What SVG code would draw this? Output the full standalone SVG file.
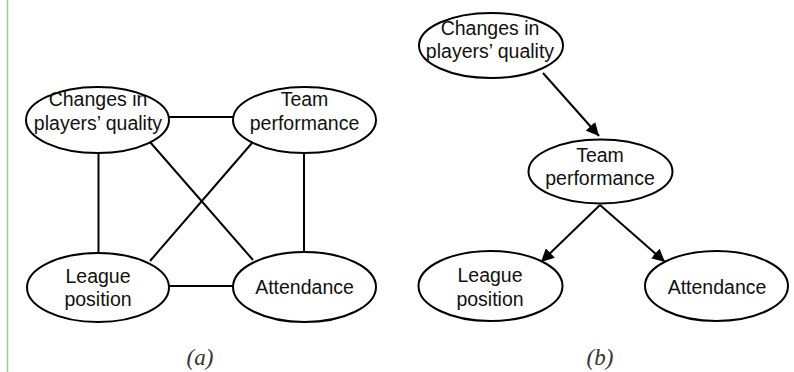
<svg xmlns="http://www.w3.org/2000/svg" width="794" height="372" viewBox="0 0 794 372">
<style>
.n ellipse{fill:#fff;stroke:#000;stroke-width:2}
.n text{font-family:"Liberation Sans",Arial,sans-serif;font-size:19.5px;fill:#111;text-anchor:middle}
.e line{stroke:#000;stroke-width:2}
.cap{font-family:"Liberation Serif","DejaVu Serif",serif;font-style:italic;font-size:23px;fill:#333;text-anchor:middle}
</style>
<defs>
<marker id="ah" viewBox="0 0 10 10" refX="10" refY="5" markerWidth="6.5" markerHeight="6.5" markerUnits="strokeWidth" orient="auto">
<path d="M0,0 L10,5 L0,10 z" fill="#000"/>
</marker>
</defs>
<line x1="7.5" y1="0" x2="7.5" y2="372" stroke="#8fd18f" stroke-width="1.5"/>
<g class="e" id="edges-a">
<line x1="169" y1="117" x2="233" y2="117"/>
<line x1="169" y1="286" x2="233" y2="286"/>
<line x1="98.5" y1="153" x2="98.5" y2="252"/>
<line x1="304" y1="153" x2="304" y2="252"/>
<line x1="150" y1="142" x2="253" y2="260"/>
<line x1="252" y1="143" x2="150" y2="261"/>
</g>
<g class="e" id="edges-b">
<line x1="543" y1="73" x2="599" y2="136" marker-end="url(#ah)"/>
<line x1="600" y1="205" x2="541" y2="262" marker-end="url(#ah)"/>
<line x1="600" y1="205" x2="665" y2="262" marker-end="url(#ah)"/>
</g>
<g class="n" id="a-changes"><ellipse cx="97.5" cy="120" rx="71.5" ry="33"/><text x="98" y="106">Changes in</text><text x="98" y="130">players’ quality</text></g>
<g class="n" id="a-team"><ellipse cx="304.5" cy="120" rx="71.5" ry="33"/><text x="304.5" y="106">Team</text><text x="304.5" y="130">performance</text></g>
<g class="n" id="a-league"><ellipse cx="98" cy="287.5" rx="71" ry="34.5"/><text x="98" y="283">League</text><text x="98" y="306">position</text></g>
<g class="n" id="a-attendance"><ellipse cx="304.5" cy="287" rx="71.5" ry="35"/><text x="304.5" y="294">Attendance</text></g>
<g class="n" id="b-changes"><ellipse cx="491" cy="45.5" rx="72" ry="32.5"/><text x="490" y="35">Changes in</text><text x="490" y="58">players’ quality</text></g>
<g class="n" id="b-team"><ellipse cx="600.5" cy="171.5" rx="72" ry="32"/><text x="600" y="162">Team</text><text x="600" y="185">performance</text></g>
<g class="n" id="b-league"><ellipse cx="490.5" cy="286" rx="72" ry="35"/><text x="490" y="282">League</text><text x="490" y="306">position</text></g>
<g class="n" id="b-attendance"><ellipse cx="716.5" cy="286" rx="71.5" ry="35"/><text x="717" y="294">Attendance</text></g>
<text class="cap" x="200" y="365">(a)</text>
<text class="cap" x="600" y="365">(b)</text>
</svg>
